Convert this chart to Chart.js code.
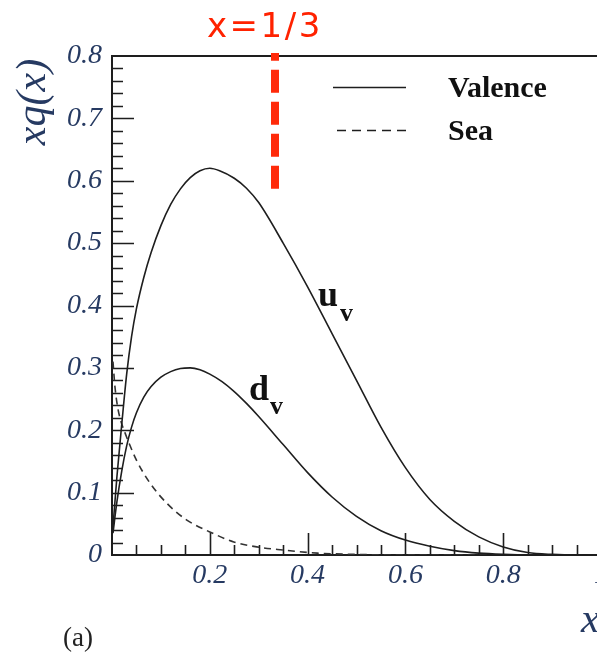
<!DOCTYPE html>
<html>
<head>
<meta charset="utf-8">
<script src="https://cdn.jsdelivr.net/npm/chart.js@4/dist/chart.umd.min.js"></script>
<style>
  html, body { margin: 0; padding: 0; background: #fff; overflow: hidden; }
  #wrap { position: relative; width: 640px; height: 653px; }
</style>
</head>
<body>
<div id="wrap"><canvas id="pdf" width="640" height="653"></canvas></div>
<script>
// Valence up-quark momentum distribution x*u_v(x)
const uvX = [0.002, 0.01, 0.02, 0.03, 0.04, 0.05, 0.065, 0.08, 0.1, 0.12, 0.14, 0.16, 0.18, 0.2, 0.22, 0.25, 0.275, 0.3, 0.35, 0.4, 0.45, 0.5, 0.55, 0.6, 0.65, 0.7, 0.75, 0.8, 0.85, 0.9, 0.95, 1.0];
const uvY = [0.045, 0.125, 0.21, 0.29, 0.35, 0.395, 0.445, 0.485, 0.528, 0.562, 0.587, 0.605, 0.616, 0.62, 0.616, 0.604, 0.588, 0.565, 0.5, 0.43, 0.355, 0.28, 0.205, 0.14, 0.089, 0.054, 0.029, 0.013, 0.004, 0.001, 0, 0];

// Valence down-quark distribution x*d_v(x)
const dvX = [0.002, 0.01, 0.02, 0.03, 0.04, 0.05, 0.065, 0.08, 0.1, 0.12, 0.14, 0.16, 0.18, 0.2, 0.225, 0.25, 0.275, 0.3, 0.35, 0.4, 0.45, 0.5, 0.55, 0.6, 0.65, 0.7, 0.75, 0.8, 0.85, 1.0];
const dvY = [0.035, 0.085, 0.135, 0.175, 0.205, 0.228, 0.253, 0.27, 0.285, 0.294, 0.299, 0.30, 0.297, 0.29, 0.278, 0.262, 0.243, 0.222, 0.177, 0.132, 0.093, 0.062, 0.039, 0.024, 0.014, 0.007, 0.003, 0.001, 0, 0];

// Sea-quark distribution
const seaX = [0.002, 0.006, 0.012, 0.02, 0.027, 0.035, 0.05, 0.078, 0.112, 0.153, 0.2, 0.249, 0.296, 0.35, 0.42, 0.5, 0.6, 1.0];
const seaY = [0.31, 0.27, 0.235, 0.21, 0.195, 0.179, 0.152, 0.115, 0.083, 0.056, 0.037, 0.021, 0.013, 0.008, 0.003, 0.001, 0, 0];

// Vertical marker at x = 1/3
const markerX = [1 / 3, 1 / 3];
const markerY = [0.587, 0.805];

// Axis tick labels
const xTickLabels = ['', '0.2', '0.4', '0.6', '0.8', '1'];
const yTickLabels = ['0', '0.1', '0.2', '0.3', '0.4', '0.5', '0.6', '0.7', '0.8'];

const pts = (xs, ys) => xs.map((x, i) => ({ x: x, y: ys[i] }));

const INK = '#1e1e1e';
const TICK_COLOR = '#263a62';
const SERIF = '"Liberation Serif", "Times New Roman", serif';

const decorations = {
  id: 'decorations',
  beforeDatasetsDraw(chart) {
    const { ctx, chartArea: a, scales: { x, y } } = chart;
    ctx.save();
    ctx.strokeStyle = INK;
    // frame top edge
    ctx.lineWidth = 2;
    ctx.beginPath();
    ctx.moveTo(a.left - 1, a.top);
    ctx.lineTo(a.right, a.top);
    ctx.stroke();
    // inward ticks
    ctx.lineWidth = 1.6;
    ctx.beginPath();
    for (let i = 1; i < 40; i++) {
      const v = i * 0.02;
      const py = Math.round(y.getPixelForValue(v)) + 0.5;
      const len = (i % 5 === 0) ? 22 : 11;
      ctx.moveTo(a.left, py);
      ctx.lineTo(a.left + len, py);
    }
    for (let i = 1; i < 20; i++) {
      const v = i * 0.05;
      const px = Math.round(x.getPixelForValue(v)) + 0.5;
      const len = (i % 4 === 0) ? 22 : 10;
      ctx.moveTo(px, a.bottom);
      ctx.lineTo(px, a.bottom - len);
    }
    ctx.stroke();
    ctx.restore();
  },
  afterDraw(chart) {
    const { ctx } = chart;
    ctx.save();
    ctx.fillStyle = '#111';
    ctx.textBaseline = 'alphabetic';

    // legend
    ctx.strokeStyle = INK;
    ctx.lineWidth = 1.6;
    ctx.beginPath();
    ctx.moveTo(333, 87.5);
    ctx.lineTo(406, 87.5);
    ctx.stroke();
    ctx.setLineDash([9, 6]);
    ctx.beginPath();
    ctx.moveTo(337, 130.5);
    ctx.lineTo(406, 130.5);
    ctx.stroke();
    ctx.setLineDash([]);
    ctx.font = 'bold 30px ' + SERIF;
    ctx.textAlign = 'left';
    ctx.fillText('Valence', 448, 97);
    ctx.fillText('Sea', 448, 140);

    // curve labels
    ctx.font = 'bold 36px ' + SERIF;
    ctx.fillText('u', 318, 306);
    ctx.fillText('d', 249, 400);
    ctx.font = 'bold 26px ' + SERIF;
    ctx.fillText('v', 340, 321);
    ctx.fillText('v', 270, 414);

    // axis titles
    ctx.fillStyle = TICK_COLOR;
    ctx.font = 'italic 42px ' + SERIF;
    ctx.save();
    ctx.translate(45, 102);
    ctx.rotate(-Math.PI / 2);
    ctx.textAlign = 'center';
    ctx.fillText('xq(x)', 0, 0);
    ctx.restore();
    ctx.textAlign = 'left';
    ctx.fillText('x', 581, 632);

    // panel tag
    ctx.fillStyle = '#222';
    ctx.font = '27px ' + SERIF;
    ctx.fillText('(a)', 63, 646);

    // marker caption
    ctx.fillStyle = '#ff2200';
    ctx.font = '34px "DejaVu Sans", Verdana, sans-serif';
    ctx.letterSpacing = '2.5px';
    ctx.fillText('x=1/3', 207, 37);
    ctx.restore();
  }
};

new Chart(document.getElementById('pdf'), {
  type: 'line',
  data: {
    datasets: [
      { label: 'u_v', data: pts(uvX, uvY), borderColor: INK, borderWidth: 1.6, cubicInterpolationMode: 'monotone' },
      { label: 'd_v', data: pts(dvX, dvY), borderColor: INK, borderWidth: 1.6, cubicInterpolationMode: 'monotone' },
      { label: 'Sea', data: pts(seaX, seaY), borderColor: '#333', borderWidth: 1.6, borderDash: [7, 5], cubicInterpolationMode: 'monotone' },
      { label: 'x=1/3', data: pts(markerX, markerY), borderColor: '#ff2a0a', borderWidth: 8, borderDash: [23, 9], borderCapStyle: 'butt', clip: false }
    ]
  },
  options: {
    responsive: false,
    animation: false,
    elements: { point: { radius: 0 }, line: { fill: false } },
    layout: { padding: { left: 0, top: 56, right: 39, bottom: 0 } },
    plugins: { legend: { display: false }, tooltip: { enabled: false } },
    scales: {
      x: {
        type: 'linear', min: 0, max: 1,
        grid: { display: false, drawTicks: false },
        border: { display: true, color: INK, width: 2 },
        ticks: {
          stepSize: 0.2, padding: 4, maxRotation: 0, autoSkip: false,
          color: TICK_COLOR,
          font: { family: SERIF, size: 28, style: 'italic' },
          callback: (v) => xTickLabels[Math.round(v / 0.2)]
        },
        afterFit: (s) => { s.height = 98; }
      },
      y: {
        type: 'linear', min: 0, max: 0.8,
        grid: { display: false, drawTicks: false },
        border: { display: true, color: INK, width: 2 },
        ticks: {
          stepSize: 0.1, padding: 10, autoSkip: false,
          color: TICK_COLOR,
          font: { family: SERIF, size: 28, style: 'italic' },
          callback: (v) => yTickLabels[Math.round(v / 0.1)]
        },
        afterFit: (s) => { s.width = 112; }
      }
    }
  },
  plugins: [decorations]
});
</script>
</body>
</html>
